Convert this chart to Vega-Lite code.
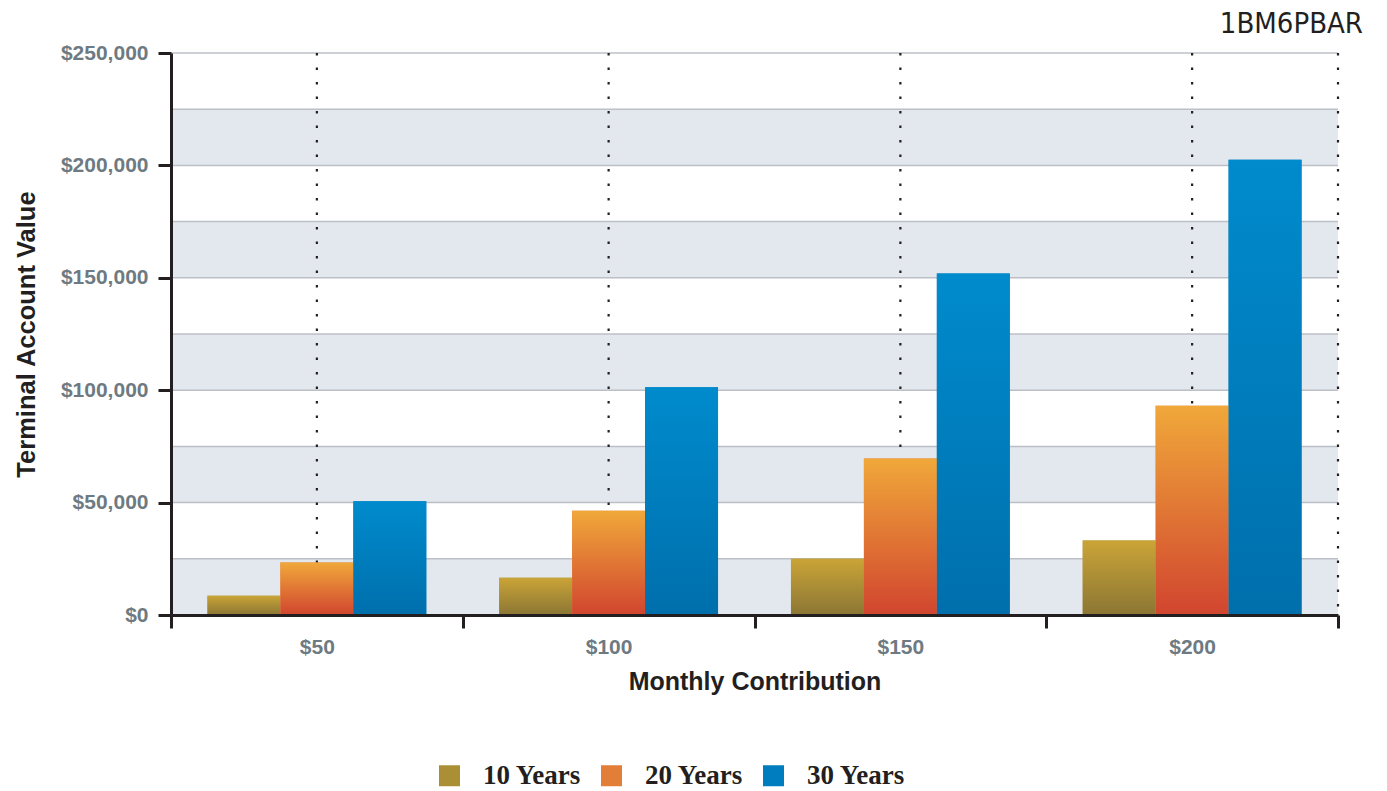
{
  "$schema": "https://vega.github.io/schema/vega-lite/v6.json",
  "width": 1167,
  "height": 562,
  "autosize": {"type": "none"},
  "padding": {"left": 171, "top": 53, "right": 49, "bottom": 176},
  "background": "white",
  "title": {
    "text": "1BM6PBAR",
    "anchor": "end",
    "frame": "group",
    "dx": 25,
    "dy": 41,
    "offset": 21,
    "baseline": "alphabetic",
    "fontSize": 29,
    "font": "Liberation Sans Narrow, DejaVu Sans Condensed, Roboto Condensed, Liberation Sans",
    "fontWeight": "normal",
    "color": "#231f20"
  },
  "datasets": {
    "bars": [
      {"contrib": "$50", "series": "10 Years", "value": 8600},
      {"contrib": "$50", "series": "20 Years", "value": 23400},
      {"contrib": "$50", "series": "30 Years", "value": 50600},
      {"contrib": "$100", "series": "10 Years", "value": 16600},
      {"contrib": "$100", "series": "20 Years", "value": 46400},
      {"contrib": "$100", "series": "30 Years", "value": 101300},
      {"contrib": "$150", "series": "10 Years", "value": 25000},
      {"contrib": "$150", "series": "20 Years", "value": 69600},
      {"contrib": "$150", "series": "30 Years", "value": 151900},
      {"contrib": "$200", "series": "10 Years", "value": 33100},
      {"contrib": "$200", "series": "20 Years", "value": 93100},
      {"contrib": "$200", "series": "30 Years", "value": 202500}
    ],
    "bands": [
      {"lo": 0, "hi": 25000},
      {"lo": 50000, "hi": 75000},
      {"lo": 100000, "hi": 125000},
      {"lo": 150000, "hi": 175000},
      {"lo": 200000, "hi": 225000}
    ],
    "grid": [
      {"v": 25000}, {"v": 50000}, {"v": 75000}, {"v": 100000}, {"v": 125000},
      {"v": 150000}, {"v": 175000}, {"v": 200000}, {"v": 225000}, {"v": 250000}
    ],
    "cats": [
      {"contrib": "$50"}, {"contrib": "$100"}, {"contrib": "$150"}, {"contrib": "$200"}
    ]
  },
  "layer": [
    {
      "data": {"name": "bands"},
      "mark": {"type": "rect", "fill": "#e3e7ee"},
      "encoding": {
        "x": {"value": 0},
        "x2": {"value": "width"},
        "y": {
          "field": "lo", "type": "quantitative", "scale": {"domain": [0, 250000], "nice": false},
          "axis": {"title": "Terminal Account Value", "zindex": 1, "values": [0, 50000, 100000, 150000, 200000, 250000], "format": "$,.0f"}
        },
        "y2": {"field": "hi"}
      }
    },
    {
      "data": {"name": "grid"},
      "mark": {"type": "rule", "stroke": "#bcc0c6", "strokeWidth": 1.5},
      "encoding": {
        "y": {
          "field": "v", "type": "quantitative", "scale": {"domain": [0, 250000], "nice": false},
          "axis": {"title": "Terminal Account Value", "zindex": 1, "values": [0, 50000, 100000, 150000, 200000, 250000], "format": "$,.0f"}
        }
      }
    },
    {
      "data": {"name": "cats"},
      "mark": {"type": "rule", "stroke": "#231f20", "strokeWidth": 2.2, "strokeDash": [2.5, 12]},
      "encoding": {
        "x": {
          "field": "contrib", "type": "nominal", "scale": {"domain": ["$50", "$100", "$150", "$200"], "paddingInner": 0, "paddingOuter": 0},
          "axis": {"title": "Monthly Contribution", "zindex": 1}
        }
      }
    },
    {
      "data": {"name": "cats"},
      "transform": [{"filter": "datum.contrib === '$200'"}],
      "mark": {"type": "rule", "stroke": "#231f20", "strokeWidth": 2.2, "strokeDash": [2.5, 12]},
      "encoding": {
        "x": {
          "field": "contrib", "type": "nominal", "bandPosition": 1, "scale": {"domain": ["$50", "$100", "$150", "$200"], "paddingInner": 0, "paddingOuter": 0},
          "axis": {"title": "Monthly Contribution", "zindex": 1}
        }
      }
    },
    {
      "data": {"name": "bars"},
      "mark": {"type": "bar"},
      "encoding": {
        "x": {
          "field": "contrib", "type": "nominal",
          "scale": {"domain": ["$50", "$100", "$150", "$200"], "paddingInner": 0, "paddingOuter": 0},
          "axis": {"title": "Monthly Contribution", "zindex": 1}
        },
        "xOffset": {"field": "series", "type": "nominal", "scale": {"domain": ["10 Years", "20 Years", "30 Years"], "paddingInner": 0, "paddingOuter": 0.5}},
        "y": {
          "field": "value", "type": "quantitative",
          "scale": {"domain": [0, 250000], "nice": false},
          "axis": {"title": "Terminal Account Value", "zindex": 1, "values": [0, 50000, 100000, 150000, 200000, 250000], "format": "$,.0f"}
        },
        "color": {
          "field": "series", "type": "nominal",
          "scale": {"domain": ["10 Years", "20 Years", "30 Years"], "range": ["#ab8f35", "#e27e38", "#007dbe"]},
          "legend": {
            "title": null, "orient": "none", "direction": "horizontal",
            "legendX": 265, "legendY": 709,
            "symbolType": "square", "symbolSize": 441, "symbolStrokeWidth": 0,
            "labelFont": "Liberation Serif", "labelFontSize": 27, "labelFontWeight": "bold", "labelColor": "#231f20",
            "labelOffset": 20, "columnPadding": 16, "padding": 0
          }
        }
      }
    },
    {
      "data": {"name": "bars"},
      "transform": [{"filter": "datum.series === '10 Years'"}],
      "mark": {"type": "bar", "fill": {"gradient": "linear", "x1": 0, "y1": 0, "x2": 0, "y2": 1, "stops": [{"offset": 0, "color": "#caa437"}, {"offset": 1, "color": "#8b7634"}]}},
      "encoding": {
        "x": {"field": "contrib", "type": "nominal", "scale": {"domain": ["$50", "$100", "$150", "$200"], "paddingInner": 0, "paddingOuter": 0}, "axis": {"title": "Monthly Contribution", "zindex": 1}},
        "xOffset": {"field": "series", "type": "nominal", "scale": {"domain": ["10 Years", "20 Years", "30 Years"], "paddingInner": 0, "paddingOuter": 0.5}},
        "y": {"field": "value", "type": "quantitative", "scale": {"domain": [0, 250000], "nice": false}, "axis": {"title": "Terminal Account Value", "zindex": 1, "values": [0, 50000, 100000, 150000, 200000, 250000], "format": "$,.0f"}}
      }
    },
    {
      "data": {"name": "bars"},
      "transform": [{"filter": "datum.series === '20 Years'"}],
      "mark": {"type": "bar", "fill": {"gradient": "linear", "x1": 0, "y1": 0, "x2": 0, "y2": 1, "stops": [{"offset": 0, "color": "#f0a83a"}, {"offset": 1, "color": "#d1452f"}]}},
      "encoding": {
        "x": {"field": "contrib", "type": "nominal", "scale": {"domain": ["$50", "$100", "$150", "$200"], "paddingInner": 0, "paddingOuter": 0}, "axis": {"title": "Monthly Contribution", "zindex": 1}},
        "xOffset": {"field": "series", "type": "nominal", "scale": {"domain": ["10 Years", "20 Years", "30 Years"], "paddingInner": 0, "paddingOuter": 0.5}},
        "y": {"field": "value", "type": "quantitative", "scale": {"domain": [0, 250000], "nice": false}, "axis": {"title": "Terminal Account Value", "zindex": 1, "values": [0, 50000, 100000, 150000, 200000, 250000], "format": "$,.0f"}}
      }
    },
    {
      "data": {"name": "bars"},
      "transform": [{"filter": "datum.series === '30 Years'"}],
      "mark": {"type": "bar", "fill": {"gradient": "linear", "x1": 0, "y1": 0, "x2": 0, "y2": 1, "stops": [{"offset": 0, "color": "#008bcd"}, {"offset": 1, "color": "#006fac"}]}},
      "encoding": {
        "x": {"field": "contrib", "type": "nominal", "scale": {"domain": ["$50", "$100", "$150", "$200"], "paddingInner": 0, "paddingOuter": 0}, "axis": {"title": "Monthly Contribution", "zindex": 1}},
        "xOffset": {"field": "series", "type": "nominal", "scale": {"domain": ["10 Years", "20 Years", "30 Years"], "paddingInner": 0, "paddingOuter": 0.5}},
        "y": {"field": "value", "type": "quantitative", "scale": {"domain": [0, 250000], "nice": false}, "axis": {"title": "Terminal Account Value", "zindex": 1, "values": [0, 50000, 100000, 150000, 200000, 250000], "format": "$,.0f"}}
      }
    }
  ],
  "config": {
    "view": {"stroke": null},
    "axisX": {
      "titleFont": "Liberation Sans", "titleFontSize": 25, "titleFontWeight": "bold", "titleColor": "#231f20", "titlePadding": 12,
      "labelFont": "Liberation Sans", "labelFontSize": 21, "labelFontWeight": "bold", "labelColor": "#6e7a82", "labelAngle": 0, "labelPadding": 8,
      "tickBand": "extent", "tickColor": "#231f20", "tickWidth": 3, "tickSize": 13,
      "domainColor": "#231f20", "domainWidth": 3, "grid": false
    },
    "axisY": {
      "titleFont": "Liberation Sans", "titleFontSize": 25.5, "titleFontWeight": "bold", "titleColor": "#231f20", "titlePadding": 21,
      "labelFont": "Liberation Sans", "labelFontSize": 21, "labelFontWeight": "bold", "labelColor": "#6e7a82", "labelPadding": 10,
      "tickColor": "#231f20", "tickWidth": 3, "tickSize": 13,
      "domainColor": "#231f20", "domainWidth": 3, "grid": false
    }
  }
}
